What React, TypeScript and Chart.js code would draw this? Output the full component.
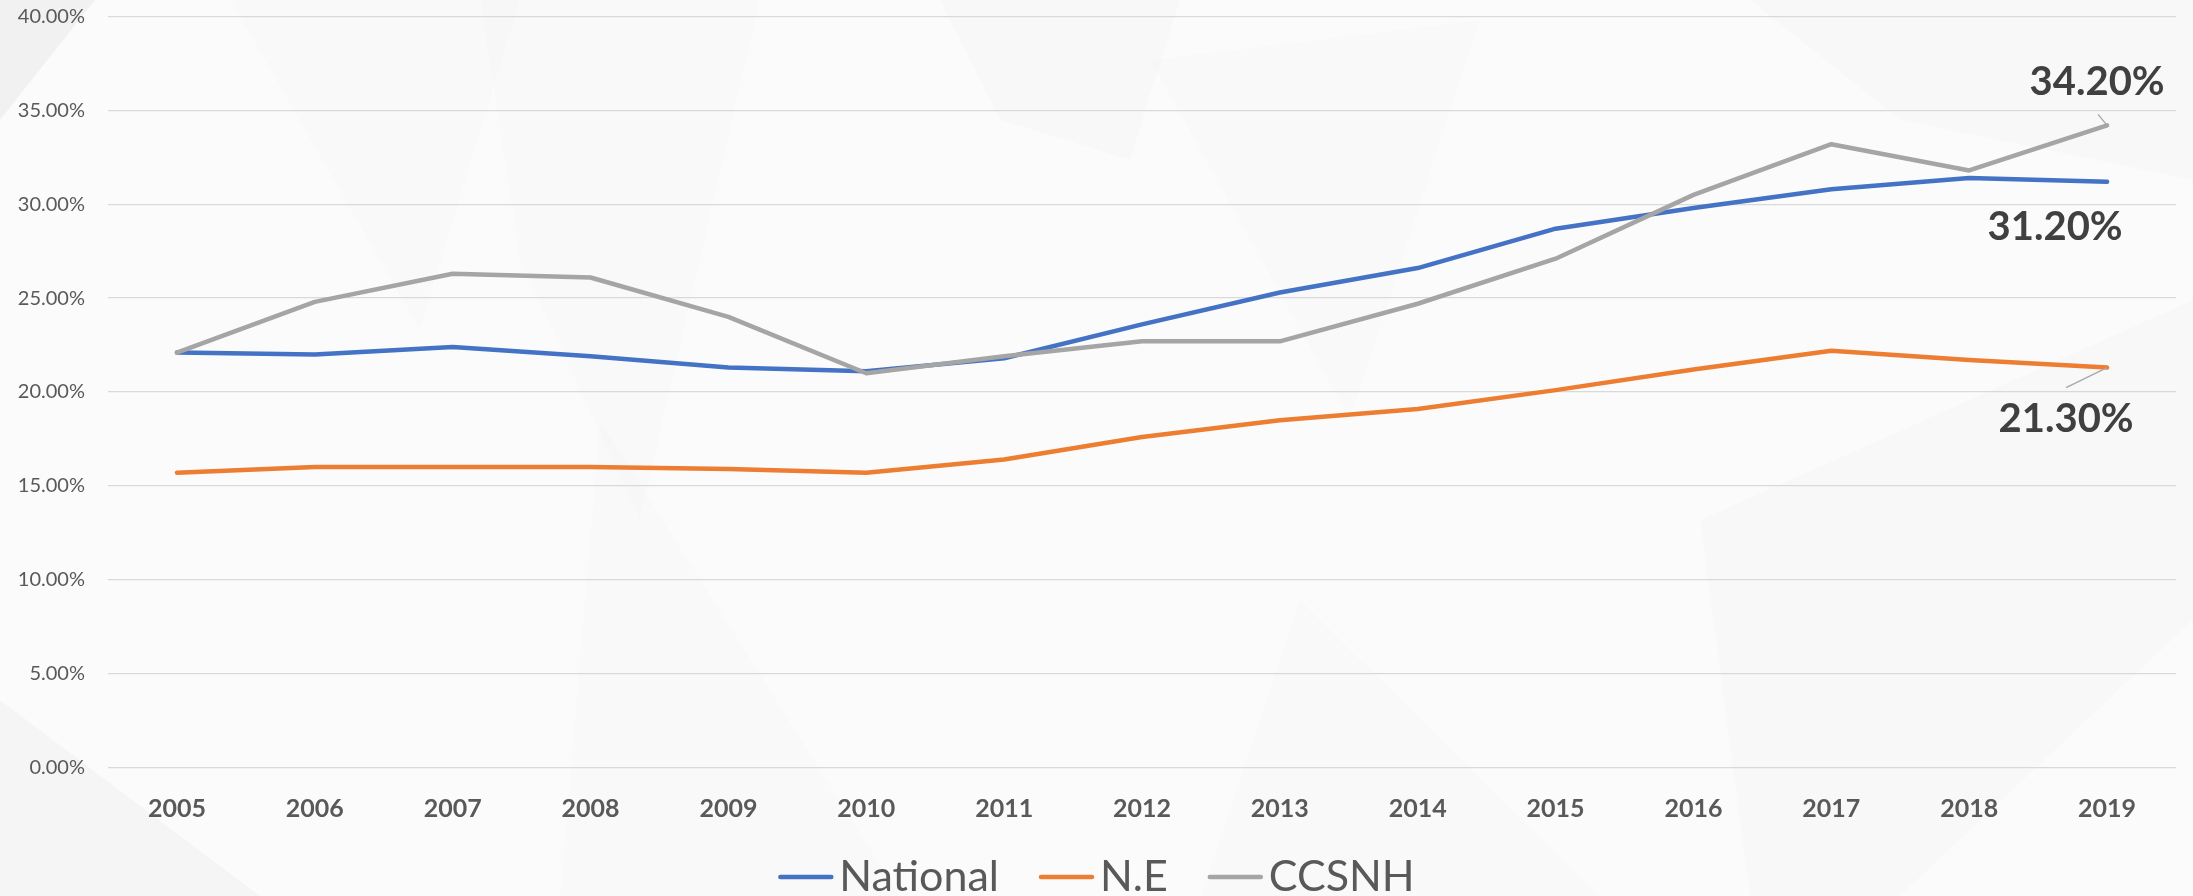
import React, { useEffect, useRef } from "react";
import { Chart, registerables } from "chart.js";

Chart.register(...registerables);

const years = ["2005", "2006", "2007", "2008", "2009", "2010", "2011", "2012", "2013", "2014", "2015", "2016", "2017", "2018", "2019"];
const national = [22.1, 22.0, 22.4, 21.9, 21.3, 21.1, 21.8, 23.6, 25.3, 26.6, 28.7, 29.8, 30.8, 31.4, 31.2];
const ne = [15.7, 16.0, 16.0, 16.0, 15.9, 15.7, 16.4, 17.6, 18.5, 19.1, 20.1, 21.2, 22.2, 21.7, 21.3];
const ccsnh = [22.1, 24.8, 26.3, 26.1, 24.0, 21.0, 21.9, 22.7, 22.7, 24.7, 27.1, 30.5, 33.2, 31.8, 34.2];
const seriesNames = ["National", "N.E", "CCSNH"];
const seriesColors = ["#4472C4", "#ED7D31", "#A5A5A5"];
const yMin = 0;
const yMax = 40;
const yStep = 5;

const FONT = "Lato, 'Open Sans', 'Noto Sans', sans-serif";

const backgroundPlugin = {
  id: "bgShapes",
  beforeDraw(chart: any) {
    const { ctx, width, height } = chart;
    ctx.save();
    ctx.fillStyle = "#fbfbfb";
    ctx.fillRect(0, 0, width, height);
    const shapes: [number, number][][] = [
      [[0, 0], [95, 0], [0, 120]],
      [[0, 700], [0, 896], [260, 896]],
      [[230, 0], [520, 0], [420, 330]],
      [[480, 0], [760, 0], [640, 520], [520, 260]],
      [[940, 0], [1180, 0], [1130, 160], [1000, 120]],
      [[1150, 60], [1480, 20], [1350, 420]],
      [[1750, 0], [2193, 0], [2193, 180], [1900, 120]],
      [[1700, 520], [2193, 300], [2193, 620], [1900, 896], [1750, 896]],
      [[1300, 600], [1600, 896], [1200, 896]],
      [[600, 420], [900, 896], [560, 896]],
    ];
    const alphas = [0.04, 0.025, 0.008, 0.007, 0.01, 0.008, 0.01, 0.012, 0.007, 0.007];
    shapes.forEach((pts, i) => {
      ctx.fillStyle = `rgba(0,0,0,${alphas[i]})`;
      ctx.beginPath();
      pts.forEach(([x, y], j) => (j === 0 ? ctx.moveTo(x, y) : ctx.lineTo(x, y)));
      ctx.closePath();
      ctx.fill();
    });
    ctx.restore();
  },
};

const endLabelPlugin = {
  id: "endLabels",
  afterDatasetsDraw(chart: any) {
    const { ctx } = chart;
    const last = years.length - 1;
    const cfg = [
      { ds: 0, dx: -52, dy: 45, leader: null as null | [number, number] },
      { ds: 1, dx: -41, dy: 52, leader: [-41, 20] as [number, number] },
      { ds: 2, dx: -10, dy: -43, leader: [-9, -11] as [number, number] },
    ];
    ctx.save();
    cfg.forEach((c) => {
      const meta = chart.getDatasetMeta(c.ds);
      const pt = meta.data[last];
      if (!pt) return;
      const x = pt.x;
      const y = pt.y;
      if (c.leader) {
        ctx.strokeStyle = "#A6A6A6";
        ctx.lineWidth = 1.3;
        ctx.beginPath();
        ctx.moveTo(x + c.leader[0], y + c.leader[1]);
        ctx.lineTo(x, y);
        ctx.stroke();
      }
      const v = chart.data.datasets[c.ds].data[last] as number;
      ctx.fillStyle = "#404040";
      ctx.font = `bold 40px ${FONT}`;
      ctx.textAlign = "center";
      ctx.textBaseline = "middle";
      ctx.fillText(v.toFixed(2) + "%", x + c.dx, y + c.dy);
    });
    ctx.restore();
  },
};

const legendPlugin = {
  id: "customLegend",
  afterDraw(chart: any) {
    const { ctx, width } = chart;
    ctx.save();
    ctx.font = `43px ${FONT}`;
    const lineLen = 55;
    const gap = 6;
    const itemGap = 40;
    const widths = seriesNames.map((n) => ctx.measureText(n).width);
    const total = widths.reduce((a, b) => a + b, 0) + seriesNames.length * (lineLen + gap) + (seriesNames.length - 1) * itemGap;
    let x = width / 2 - total / 2;
    const baseY = 891;
    const lineY = 877;
    seriesNames.forEach((n, i) => {
      ctx.strokeStyle = seriesColors[i];
      ctx.lineWidth = 4.5;
      ctx.lineCap = "round";
      ctx.beginPath();
      ctx.moveTo(x + 2, lineY);
      ctx.lineTo(x + lineLen - 2, lineY);
      ctx.stroke();
      x += lineLen + gap;
      ctx.fillStyle = "#595959";
      ctx.textAlign = "left";
      ctx.textBaseline = "alphabetic";
      ctx.fillText(n, x, baseY);
      x += widths[i] + itemGap;
    });
    ctx.restore();
  },
};

export default function App() {
  const ref = useRef<HTMLCanvasElement | null>(null);

  useEffect(() => {
    document.body.style.margin = "0";
    const canvas = ref.current;
    if (!canvas) return;
    const datasets = [national, ne, ccsnh].map((d, i) => ({
      label: seriesNames[i],
      data: d,
      borderColor: seriesColors[i],
      backgroundColor: seriesColors[i],
      borderWidth: 4.5,
      pointRadius: 0,
      pointHoverRadius: 0,
      tension: 0,
      fill: false,
      borderCapStyle: "round" as const,
      borderJoinStyle: "round" as const,
      order: i === 2 ? 0 : i === 0 ? 1 : 2,
    }));
    const chart = new Chart(canvas, {
      type: "line",
      data: { labels: years, datasets },
      plugins: [backgroundPlugin, endLabelPlugin, legendPlugin],
      options: {
        animation: false,
        responsive: false,
        maintainAspectRatio: false,
        devicePixelRatio: 1,
        layout: { padding: { top: 16.5, right: 17, left: 0, bottom: 48.5 } },
        plugins: {
          legend: { display: false },
          tooltip: { enabled: false },
          title: { display: false },
        },
        scales: {
          x: {
            type: "category",
            offset: true,
            grid: { display: false, drawTicks: false },
            border: { display: false },
            ticks: {
              color: "#595959",
              font: { family: FONT, size: 25, weight: "bold" },
              padding: 26,
              maxRotation: 0,
              autoSkip: false,
            },
            afterFit(scale: any) {
              scale.height = 80;
              scale.paddingLeft = 0;
              scale.paddingRight = 0;
            },
          },
          y: {
            min: yMin,
            max: yMax,
            ticks: {
              stepSize: yStep,
              color: "#595959",
              font: { family: FONT, size: 20 },
              padding: 23,
              callback: (v: any) => Number(v).toFixed(2) + "%",
            },
            grid: { color: "#D9D9D9", lineWidth: 1.3, drawTicks: false },
            border: { display: false },
            afterFit(scale: any) {
              scale.width = 108;
              scale.paddingTop = 0;
              scale.paddingBottom = 0;
            },
          },
        },
      },
    });
    return () => chart.destroy();
  }, []);

  return (
    <div style={{ width: 2193, height: 896 }}>
      <canvas ref={ref} width={2193} height={896} style={{ display: "block", width: 2193, height: 896 }} />
    </div>
  );
}
